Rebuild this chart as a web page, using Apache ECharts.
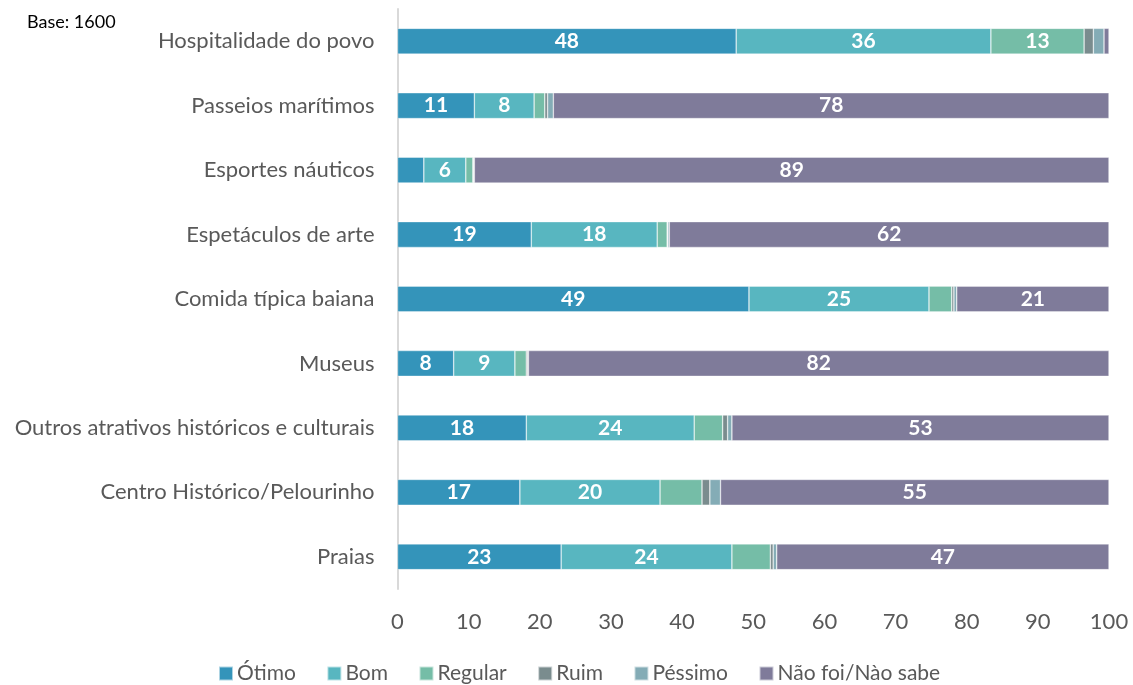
<!DOCTYPE html>
<html>
<head>
<meta charset="utf-8">
<script src="https://cdn.jsdelivr.net/npm/echarts@6/dist/echarts.min.js"></script>
<style>
  html, body { margin: 0; padding: 0; background: #fff; }
  #chart { width: 1133px; height: 685px; }
</style>
</head>
<body>
<div id="chart"></div>
<script>
// Categories, top to bottom as drawn
const categories = [
  'Hospitalidade do povo',
  'Passeios marítimos',
  'Esportes náuticos',
  'Espetáculos de arte',
  'Comida típica baiana',
  'Museus',
  'Outros atrativos históricos e culturais',
  'Centro Histórico/Pelourinho',
  'Praias'
];

// Percentages per rating, same order as categories
const otimo   = [47.6, 10.8, 3.7, 18.8, 49.4, 7.9, 18.1, 17.2, 23.0];
const bom     = [35.8,  8.4, 5.9, 17.7, 25.3, 8.6, 23.6, 19.7, 24.0];
const regular = [13.1,  1.5, 1.0,  1.4,  3.2, 1.6,  4.0,  5.9,  5.4];
const ruim    = [ 1.3,  0.4, 0.1,  0.1,  0.3, 0.2,  0.7,  1.1,  0.4];
const pessimo = [ 1.5,  0.8, 0.1,  0.2,  0.4, 0.1,  0.6,  1.5,  0.5];
const naoFoi  = [ 0.7, 78.1, 89.2, 61.8, 21.4, 81.6, 53.0, 54.6, 46.7];

const xTicks = [0, 10, 20, 30, 40, 50, 60, 70, 80, 90, 100];

const seriesDefs = [
  { name: 'Ótimo',             data: otimo,   color: '#3494BA', minLabel: 5 },
  { name: 'Bom',               data: bom,     color: '#58B6C0', minLabel: 5 },
  { name: 'Regular',           data: regular, color: '#75BDA7', minLabel: 10 },
  { name: 'Ruim',              data: ruim,    color: '#7A8C8E', minLabel: Infinity },
  { name: 'Péssimo',           data: pessimo, color: '#84ACB6', minLabel: Infinity },
  { name: 'Não foi/Nào sabe',  data: naoFoi,  color: '#7F7B9A', minLabel: 5 }
];

const chart = echarts.init(document.getElementById('chart'), null, { renderer: 'canvas' });

const series = seriesDefs.map(s => ({
  name: s.name,
  type: 'bar',
  stack: 'total',
  barCategoryGap: '60%',
  data: s.data,
  itemStyle: { color: s.color, borderColor: 'rgba(255,255,255,0.6)', borderWidth: 0.6 },
  label: {
    show: true,
    position: 'inside',
    color: '#fff',
    fontFamily: 'Lato',
    fontWeight: 'bold',
    fontSize: 21,
    formatter: p => (p.value >= s.minLabel ? String(Math.round(p.value)) : '')
  },
  emphasis: { disabled: true }
}));

chart.setOption({
  animation: false,
  backgroundColor: '#fff',
  textStyle: { fontFamily: 'Lato' },
  graphic: [{
    type: 'text',
    left: 27,
    top: 13,
    style: { text: 'Base: 1600', fontFamily: 'Lato', fontSize: 18, fill: '#000' }
  }],
  grid: { left: 397.5, right: 24, top: 9, height: 580, containLabel: false },
  legend: {
    top: 658,
    left: 213,
    itemWidth: 14,
    itemHeight: 14,
    itemGap: 30.5,
    icon: 'rect',
    textStyle: { fontFamily: 'Lato', fontSize: 21, color: '#595959', padding: [0, 0, 0, -1] },
    data: seriesDefs.map(s => s.name)
  },
  xAxis: {
    type: 'value',
    min: xTicks[0],
    max: xTicks[xTicks.length - 1],
    interval: 10,
    axisLine: { show: false },
    axisTick: { show: false },
    splitLine: { show: false },
    axisLabel: { color: '#595959', fontFamily: 'Lato', fontSize: 22, margin: 22 }
  },
  yAxis: {
    type: 'category',
    data: categories,
    inverse: true,
    axisLine: { show: true, lineStyle: { color: '#D9D9D9', width: 2 } },
    axisTick: { show: false },
    axisLabel: { color: '#595959', fontFamily: 'Lato', fontSize: 22, margin: 23 }
  },
  series: series
});
</script>
</body>
</html>
